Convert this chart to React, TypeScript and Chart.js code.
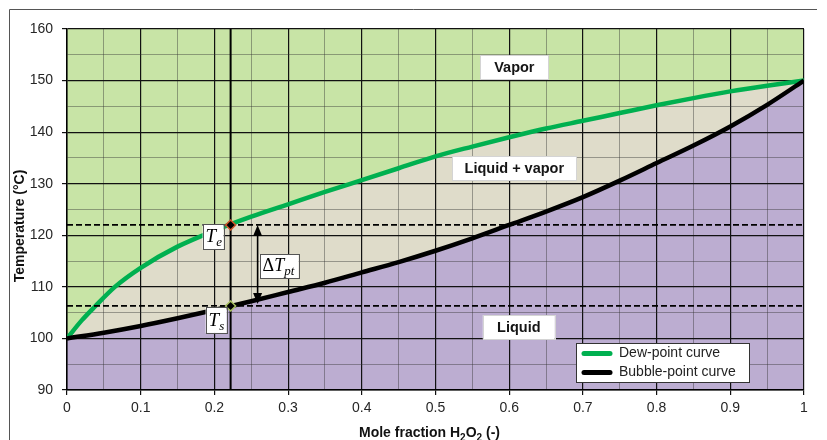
import React, { useEffect, useRef } from 'react';
import { Chart, registerables } from 'chart.js';

Chart.register(...registerables);

// Dew-point curve (vapour composition) of the H2O / H2O2 system
const dewX = [0, 0.02, 0.038, 0.065, 0.1, 0.15, 0.2, 0.25, 0.3, 0.35, 0.4, 0.45, 0.5, 0.55, 0.6, 0.65, 0.7, 0.75, 0.8, 0.85, 0.9, 0.95, 1];
const dewT = [100, 103.5, 106.2, 110.0, 113.7, 117.8, 120.9, 123.6, 126.0, 128.4, 130.7, 133.0, 135.3, 137.2, 139.0, 140.7, 142.2, 143.7, 145.2, 146.6, 147.9, 149.0, 150];

// Bubble-point curve (liquid composition)
const bubbleX = [0, 0.05, 0.1, 0.15, 0.2, 0.25, 0.3, 0.35, 0.4, 0.45, 0.5, 0.55, 0.6, 0.65, 0.7, 0.75, 0.8, 0.85, 0.9, 0.95, 1];
const bubbleT = [100, 101.1, 102.4, 103.9, 105.5, 107.2, 109.0, 110.8, 112.8, 114.8, 117.0, 119.4, 122.0, 124.6, 127.4, 130.6, 134.0, 137.4, 141.1, 145.3, 150];

// Operating composition and its dew / bubble temperatures
const xOp = 0.222;
const tDew = 122;
const tBubble = 106.3;

// Phase-region labels (placed in data coordinates)
const regionText = ['Vapor', 'Liquid + vapor', 'Liquid'];
const regionX = [0.607, 0.607, 0.613];
const regionT = [152.6, 133.0, 102.2];
const regionBoxW = [68, 124, 72];

const seriesNames = ['Dew-point curve', 'Bubble-point curve'];
const seriesColors = ['#00b050', '#000000'];

const SANS = '"Liberation Sans", Arial, sans-serif';
const SERIF = '"Liberation Serif", "Times New Roman", serif';

const isMajorX = (v: number) => Math.abs(v * 10 - Math.round(v * 10)) < 1e-6;
const isMajorY = (v: number) => Math.abs(v / 10 - Math.round(v / 10)) < 1e-6;

function drawDiamond(ctx: CanvasRenderingContext2D, x: number, y: number, r: number, edge: string) {
  ctx.save();
  ctx.beginPath();
  ctx.moveTo(x, y - r);
  ctx.lineTo(x + r, y);
  ctx.lineTo(x, y + r);
  ctx.lineTo(x - r, y);
  ctx.closePath();
  ctx.fillStyle = '#000';
  ctx.fill();
  ctx.lineWidth = 1.5;
  ctx.strokeStyle = edge;
  ctx.stroke();
  ctx.restore();
}

function drawBox(ctx: CanvasRenderingContext2D, x: number, y: number, w: number, h: number, edge: string) {
  ctx.save();
  ctx.fillStyle = '#ffffff';
  ctx.fillRect(x, y, w, h);
  ctx.lineWidth = 1;
  ctx.strokeStyle = edge;
  ctx.strokeRect(Math.round(x) + 0.5, Math.round(y) + 0.5, Math.round(w), Math.round(h));
  ctx.restore();
}

// Draws a run of text pieces, each with its own font and baseline shift
function drawRuns(ctx: CanvasRenderingContext2D, x: number, y: number, runs: [string, string, number][]) {
  let cx = x;
  for (const [text, font, dy] of runs) {
    ctx.font = font;
    ctx.fillText(text, cx, y + dy);
    cx += ctx.measureText(text).width;
  }
}

function runsWidth(ctx: CanvasRenderingContext2D, runs: [string, string, number][]) {
  let w = 0;
  for (const [text, font] of runs) {
    ctx.font = font;
    w += ctx.measureText(text).width;
  }
  return w;
}

function drawArrowHead(ctx: CanvasRenderingContext2D, x: number, tipY: number, dir: number) {
  ctx.beginPath();
  ctx.moveTo(x, tipY);
  ctx.lineTo(x - 4.5, tipY + dir * 11);
  ctx.lineTo(x + 4.5, tipY + dir * 11);
  ctx.closePath();
  ctx.fill();
}

const overlayPlugin = {
  id: 'phaseOverlay',
  afterDraw(chart: any) {
    const ctx: CanvasRenderingContext2D = chart.ctx;
    const xs = chart.scales.x;
    const ys = chart.scales.y;
    const area = chart.chartArea;

    const px = xs.getPixelForValue(xOp);
    const pyE = ys.getPixelForValue(tDew);
    const pyS = ys.getPixelForValue(tBubble);

    ctx.save();

    // dashed isotherms through the dew and bubble temperatures
    ctx.setLineDash([6, 3]);
    ctx.lineWidth = 1.8;
    ctx.strokeStyle = '#000';
    for (const py of [pyE, pyS]) {
      ctx.beginPath();
      ctx.moveTo(area.left, py);
      ctx.lineTo(area.right, py);
      ctx.stroke();
    }
    ctx.setLineDash([]);

    // vertical line at the operating composition
    ctx.lineWidth = 2;
    ctx.beginPath();
    ctx.moveTo(px, area.top);
    ctx.lineTo(px, area.bottom);
    ctx.stroke();

    drawDiamond(ctx, px, pyE, 5, '#d0582c');
    drawDiamond(ctx, px, pyS, 5, '#a8c060');

    // double arrow for the temperature glide
    const ax = px + 27;
    ctx.fillStyle = '#000';
    ctx.lineWidth = 1.6;
    ctx.beginPath();
    ctx.moveTo(ax, pyE + 6);
    ctx.lineTo(ax, pyS - 6);
    ctx.stroke();
    drawArrowHead(ctx, ax, pyE, 1);
    drawArrowHead(ctx, ax, pyS - 2, -1);

    // T_e and T_s labels
    ctx.textBaseline = 'alphabetic';
    ctx.textAlign = 'left';
    const bigI = `italic 19px ${SERIF}`;
    const subI = `italic 13px ${SERIF}`;
    drawBox(ctx, px - 28, pyE - 1, 21, 25, '#555');
    ctx.fillStyle = '#000';
    drawRuns(ctx, px - 25, pyE + 17, [['T', bigI, 0], ['e', subI, 4]]);
    drawBox(ctx, px - 25, pyS + 1, 21, 26, '#555');
    ctx.fillStyle = '#000';
    drawRuns(ctx, px - 22, pyS + 20, [['T', bigI, 0], ['s', subI, 4]]);

    // ΔT_pt label
    const midY = (pyE + pyS) / 2;
    drawBox(ctx, px + 29, midY - 11, 39, 24, '#555');
    ctx.fillStyle = '#000';
    drawRuns(ctx, px + 32, midY + 6, [['Δ', `18px ${SERIF}`, 0], ['T', `italic 18px ${SERIF}`, 0], ['pt', `italic 13px ${SERIF}`, 4]]);

    // phase-region labels
    ctx.textAlign = 'center';
    ctx.textBaseline = 'middle';
    regionText.forEach((t, i) => {
      const cx = xs.getPixelForValue(regionX[i]);
      const cy = ys.getPixelForValue(regionT[i]);
      const w = regionBoxW[i];
      drawBox(ctx, cx - w / 2, cy - 12, w, 24, '#d4d4d4');
      ctx.fillStyle = '#151515';
      ctx.font = `bold 14.5px ${SANS}`;
      ctx.fillText(t, cx, cy + 1);
    });

    // legend
    const lgR = area.right - 55;
    const lgB = area.bottom - 8;
    const lgW = 173;
    const lgH = 39;
    const lgL = lgR - lgW;
    const lgT = lgB - lgH;
    drawBox(ctx, lgL, lgT, lgW, lgH, '#333');
    ctx.textAlign = 'left';
    ctx.textBaseline = 'middle';
    seriesNames.forEach((name, i) => {
      const y = lgT + 10.5 + i * 19;
      ctx.strokeStyle = seriesColors[i];
      ctx.lineWidth = 5;
      ctx.lineCap = 'round';
      ctx.beginPath();
      ctx.moveTo(lgL + 8, y);
      ctx.lineTo(lgL + 34, y);
      ctx.stroke();
      ctx.fillStyle = '#222';
      ctx.font = `14px ${SANS}`;
      ctx.fillText(name, lgL + 43, y);
    });
    ctx.lineCap = 'butt';

    // axis titles
    ctx.fillStyle = '#111';
    ctx.textBaseline = 'alphabetic';
    const bold = `bold 14px ${SANS}`;
    const boldSub = `bold 10px ${SANS}`;
    const xTitle: [string, string, number][] = [
      ['Mole fraction H', bold, 0], ['2', boldSub, 4], ['O', bold, 0], ['2', boldSub, 4], [' (-)', bold, 0],
    ];
    const tw = runsWidth(ctx, xTitle);
    ctx.textAlign = 'left';
    drawRuns(ctx, (area.left + area.right) / 2 - 6 - tw / 2, 437, xTitle);

    ctx.save();
    ctx.translate(24, 226);
    ctx.rotate(-Math.PI / 2);
    ctx.textAlign = 'center';
    ctx.font = bold;
    ctx.fillText('Temperature (°C)', 0, 0);
    ctx.restore();

    // outer frame
    ctx.strokeStyle = '#555';
    ctx.lineWidth = 1;
    ctx.beginPath();
    ctx.moveTo(9.5, 440);
    ctx.lineTo(9.5, 9.5);
    ctx.lineTo(817, 9.5);
    ctx.stroke();

    ctx.restore();
  },
};

export default function App() {
  const canvasRef = useRef<HTMLCanvasElement>(null);

  useEffect(() => {
    const canvas = canvasRef.current;
    if (!canvas) return;
    const dewPts = dewX.map((x, i) => ({ x, y: dewT[i] }));
    const bubblePts = bubbleX.map((x, i) => ({ x, y: bubbleT[i] }));

    const gridColor = (major: boolean) => (major ? '#111111' : 'rgba(50,50,50,0.42)');
    const tickFont = { family: SANS, size: 14 };

    const chart = new Chart(canvas, {
      type: 'line',
      data: {
        datasets: [
          {
            // liquid region below the bubble-point curve
            label: seriesNames[1],
            data: bubblePts,
            borderColor: seriesColors[1],
            borderWidth: 4.5,
            pointRadius: 0,
            cubicInterpolationMode: 'monotone',
            fill: 'start',
            backgroundColor: '#bcadd1',
            order: 0,
          },
          {
            // vapour region above the dew-point curve
            label: seriesNames[0],
            data: dewPts,
            borderColor: seriesColors[0],
            borderWidth: 4.5,
            pointRadius: 0,
            cubicInterpolationMode: 'monotone',
            fill: 'end',
            backgroundColor: '#c8e4a6',
            order: 1,
          },
          {
            // two-phase band: everything under the dew curve, later covered by the liquid fill
            label: 'two-phase',
            data: dewPts,
            borderColor: 'rgba(0,0,0,0)',
            borderWidth: 0,
            pointRadius: 0,
            cubicInterpolationMode: 'monotone',
            fill: 'start',
            backgroundColor: '#dfdcca',
            order: 2,
          },
        ],
      },
      options: {
        responsive: false,
        animation: false,
        devicePixelRatio: 1,
        events: [],
        layout: { padding: { left: 0, top: 29, right: 23, bottom: 0 } },
        plugins: {
          legend: { display: false },
          tooltip: { enabled: false },
          filler: { drawTime: 'beforeDraw', propagate: false },
        },
        scales: {
          x: {
            type: 'linear',
            min: 0,
            max: 1,
            afterFit: (s: any) => { s.height = 50; },
            ticks: {
              stepSize: 0.05,
              autoSkip: false,
              maxRotation: 0,
              padding: 5,
              color: '#262626',
              font: tickFont,
              callback: (v: any) => (isMajorX(Number(v)) ? String(Math.round(Number(v) * 10) / 10) : ''),
            },
            grid: {
              color: (c: any) => gridColor(isMajorX(c.tick?.value ?? 0)),
              lineWidth: (c: any) => (isMajorX(c.tick?.value ?? 0) ? 1.2 : 1),
              tickColor: (c: any) => (isMajorX(c.tick?.value ?? 0) ? '#111' : 'rgba(0,0,0,0)'),
              tickLength: 5,
              drawTicks: true,
            },
            border: { color: '#000', width: 1.5 },
          },
          y: {
            type: 'linear',
            min: 90,
            max: 160,
            afterFit: (s: any) => { s.width = 67; },
            ticks: {
              stepSize: 5,
              autoSkip: false,
              padding: 9,
              color: '#262626',
              font: tickFont,
              callback: (v: any) => (isMajorY(Number(v)) ? String(Math.round(Number(v))) : ''),
            },
            grid: {
              color: (c: any) => gridColor(isMajorY(c.tick?.value ?? 0)),
              lineWidth: (c: any) => (isMajorY(c.tick?.value ?? 0) ? 1.2 : 1),
              tickColor: (c: any) => (isMajorY(c.tick?.value ?? 0) ? '#111' : 'rgba(0,0,0,0)'),
              tickLength: 5,
              drawTicks: true,
            },
            border: { color: '#000', width: 1.5 },
          },
        },
      } as any,
      plugins: [overlayPlugin],
    });

    return () => chart.destroy();
  }, []);

  return (
    <div style={{ position: 'absolute', left: 0, top: 0, width: 827, height: 440, background: '#ffffff' }}>
      <canvas ref={canvasRef} width={827} height={440} style={{ display: 'block', width: 827, height: 440 }} />
    </div>
  );
}
